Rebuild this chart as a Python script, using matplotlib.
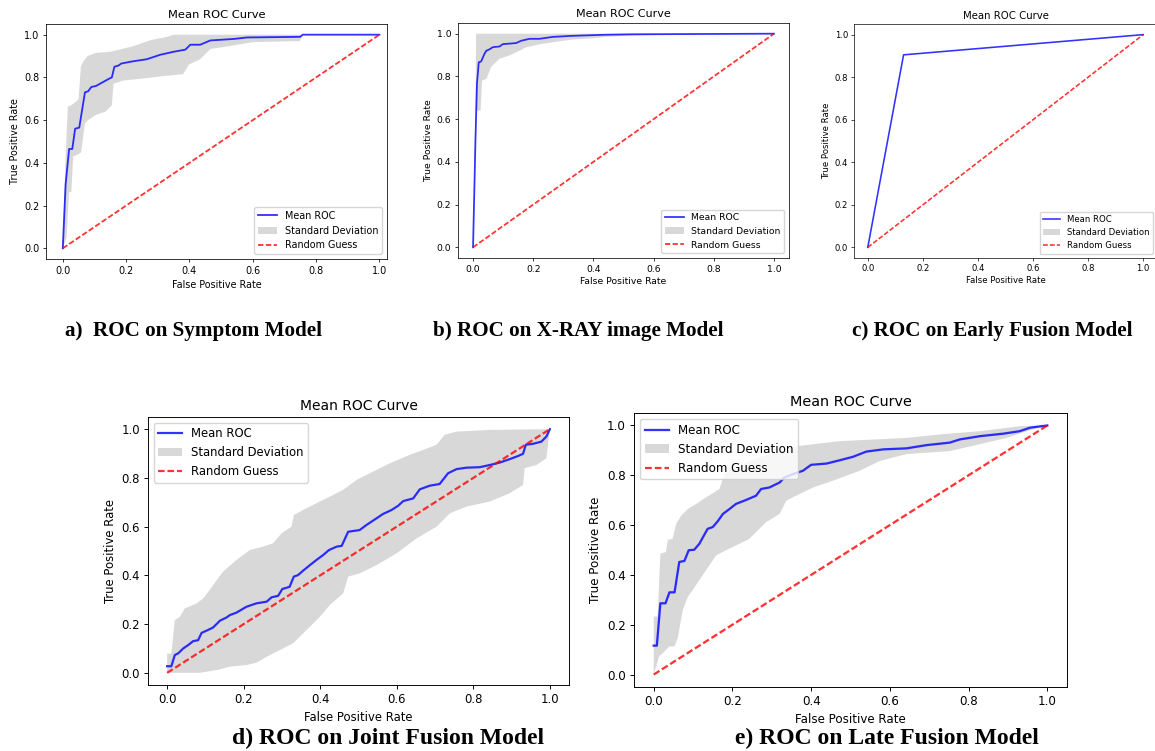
import matplotlib
matplotlib.use("Agg")
import matplotlib.pyplot as plt

# ---- a) symptom model ----
fpr_a = [0, 0.009, 0.02, 0.03, 0.039, 0.052, 0.07, 0.08, 0.09, 0.105, 0.15, 0.155, 0.163, 0.175,
         0.185, 0.22, 0.265, 0.308, 0.35, 0.387, 0.403, 0.434, 0.466, 0.54, 0.582, 0.75, 0.758, 1.0]
tpr_a = [0, 0.30, 0.465, 0.465, 0.56, 0.565, 0.73, 0.735, 0.755, 0.76, 0.797, 0.80, 0.85, 0.855,
         0.865, 0.875, 0.885, 0.906, 0.92, 0.93, 0.953, 0.953, 0.973, 0.98, 0.987, 0.99, 1.0, 1.0]
up_x_a = [0, 0.008, 0.016, 0.027, 0.045, 0.05, 0.057, 0.065, 0.078, 0.105, 0.15, 0.22, 0.276, 0.33, 0.35, 1.0]
up_y_a = [0, 0.40, 0.663, 0.67, 0.69, 0.70, 0.85, 0.875, 0.90, 0.915, 0.92, 0.945, 0.974, 0.99, 1.0, 1.0]
lo_x_a = [0, 0.012, 0.02, 0.027, 0.033, 0.05, 0.058, 0.07, 0.08, 0.105, 0.135, 0.155, 0.16, 0.19, 0.255,
          0.31, 0.38, 0.398, 0.434, 0.466, 0.52, 0.6, 0.75, 0.755, 1.0]
lo_y_a = [0, 0.05, 0.264, 0.264, 0.43, 0.44, 0.45, 0.585, 0.60, 0.625, 0.64, 0.67, 0.77, 0.785, 0.795,
          0.805, 0.815, 0.86, 0.885, 0.933, 0.945, 0.965, 0.97, 1.0, 1.0]

# ---- b) x-ray image model ----
fpr_b = [0, 0.008, 0.013, 0.019, 0.027, 0.038, 0.044, 0.055, 0.066, 0.088, 0.099, 0.143, 0.16, 0.188,
         0.221, 0.265, 0.331, 0.441, 0.53, 1.0]
tpr_b = [0, 0.5, 0.766, 0.866, 0.87, 0.906, 0.92, 0.927, 0.937, 0.94, 0.951, 0.956, 0.967, 0.976,
         0.976, 0.985, 0.99, 0.995, 0.997, 1.0]
up_x_b = [0, 0.009, 0.01, 1.0]
up_y_b = [0, 0.75, 1.0, 1.0]
lo_x_b = [0, 0.01, 0.025, 0.03, 0.045, 0.06, 0.088, 0.121, 0.154, 0.176, 0.22, 0.276, 0.331, 0.397,
          0.441, 0.507, 0.7, 1.0]
lo_y_b = [0, 0.64, 0.64, 0.78, 0.79, 0.844, 0.883, 0.898, 0.92, 0.936, 0.95, 0.962, 0.973, 0.978,
          0.985, 0.99, 0.998, 1.0]

# ---- c) early fusion (no spread between folds) ----
fpr_c = [0, 0.13, 1.0]
tpr_c = [0, 0.905, 1.0]

# ---- d) joint fusion ----
fpr_d = [0, 0.011, 0.02, 0.029, 0.042, 0.055, 0.068, 0.081, 0.09, 0.103, 0.12, 0.138, 0.155, 0.164,
         0.181, 0.207, 0.233, 0.26, 0.273, 0.29, 0.301, 0.32, 0.331, 0.342, 0.355, 0.373, 0.39, 0.408,
         0.423, 0.443, 0.456, 0.473, 0.503, 0.521, 0.547, 0.564, 0.586, 0.603, 0.617, 0.643, 0.66,
         0.686, 0.712, 0.734, 0.756, 0.782, 0.817, 0.843, 0.869, 0.895, 0.917, 0.93, 0.937, 0.956,
         0.978, 0.991, 1.0]
tpr_d = [0.027, 0.027, 0.073, 0.08, 0.10, 0.114, 0.13, 0.134, 0.164, 0.173, 0.186, 0.214, 0.227, 0.237,
         0.247, 0.271, 0.285, 0.292, 0.31, 0.316, 0.344, 0.353, 0.395, 0.401, 0.419, 0.442, 0.463,
         0.484, 0.504, 0.518, 0.521, 0.579, 0.586, 0.607, 0.634, 0.652, 0.668, 0.685, 0.705, 0.716,
         0.753, 0.768, 0.775, 0.819, 0.836, 0.842, 0.844, 0.853, 0.863, 0.877, 0.89, 0.899, 0.936,
         0.94, 0.949, 0.97, 1.0]
up_x_d = [0, 0.011, 0.02, 0.033, 0.046, 0.077, 0.094, 0.111, 0.133, 0.146, 0.181, 0.216, 0.251, 0.277,
          0.299, 0.325, 0.331, 0.355, 0.39, 0.425, 0.46, 0.495, 0.538, 0.582, 0.634, 0.669, 0.704,
          0.725, 0.756, 0.843, 1.0]
up_y_d = [0.079, 0.079, 0.216, 0.23, 0.264, 0.285, 0.305, 0.34, 0.388, 0.415, 0.463, 0.504, 0.518,
          0.532, 0.573, 0.60, 0.648, 0.668, 0.696, 0.723, 0.751, 0.792, 0.826, 0.86, 0.895, 0.915,
          0.936, 0.977, 0.99, 0.997, 1.0]
lo_x_d = [0, 0.085, 0.129, 0.164, 0.207, 0.233, 0.26, 0.294, 0.329, 0.364, 0.399, 0.425, 0.46, 0.473,
          0.503, 0.547, 0.599, 0.652, 0.704, 0.739, 0.782, 0.843, 0.895, 0.93, 0.934, 0.965, 0.991, 1.0]
lo_y_d = [0, 0, 0.011, 0.025, 0.032, 0.041, 0.066, 0.093, 0.121, 0.175, 0.23, 0.278, 0.326, 0.395,
          0.408, 0.442, 0.49, 0.552, 0.60, 0.655, 0.682, 0.703, 0.737, 0.771, 0.84, 0.853, 0.881, 1.0]

# ---- e) late fusion ----
fpr_e = [0, 0.008, 0.017, 0.03, 0.04, 0.053, 0.065, 0.078, 0.089, 0.103, 0.116, 0.137, 0.15, 0.163,
         0.176, 0.193, 0.209, 0.235, 0.26, 0.273, 0.294, 0.32, 0.332, 0.354, 0.379, 0.40, 0.439,
         0.472, 0.506, 0.54, 0.583, 0.642, 0.693, 0.752, 0.778, 0.829, 0.888, 0.93, 0.956, 1.0]
tpr_e = [0.116, 0.116, 0.286, 0.286, 0.33, 0.33, 0.452, 0.456, 0.499, 0.501, 0.525, 0.585, 0.592,
         0.616, 0.645, 0.665, 0.685, 0.701, 0.718, 0.745, 0.751, 0.771, 0.791, 0.805, 0.818, 0.842,
         0.847, 0.86, 0.874, 0.895, 0.904, 0.908, 0.921, 0.931, 0.944, 0.957, 0.967, 0.977, 0.991, 1.0]
up_x_e = [0, 0.01, 0.017, 0.031, 0.036, 0.048, 0.057, 0.07, 0.087, 0.108, 0.133, 0.167, 0.18, 0.201,
          0.25, 0.3, 0.37, 0.472, 0.642, 0.727, 0.829, 0.93, 1.0]
up_y_e = [0.233, 0.233, 0.485, 0.492, 0.541, 0.545, 0.605, 0.638, 0.665, 0.685, 0.711, 0.745, 0.805,
          0.824, 0.86, 0.89, 0.918, 0.937, 0.95, 0.964, 0.977, 0.997, 1.0]
lo_x_e = [0, 0.014, 0.023, 0.04, 0.053, 0.061, 0.074, 0.087, 0.099, 0.116, 0.133, 0.159, 0.184, 0.218,
          0.243, 0.286, 0.32, 0.337, 0.371, 0.405, 0.455, 0.523, 0.574, 0.642, 0.752, 0.829, 0.897,
          0.948, 1.0]
lo_y_e = [0, 0.073, 0.086, 0.113, 0.113, 0.146, 0.259, 0.312, 0.339, 0.379, 0.419, 0.479, 0.499,
          0.525, 0.545, 0.612, 0.645, 0.698, 0.725, 0.751, 0.778, 0.818, 0.857, 0.885, 0.897, 0.925,
          0.95, 0.977, 1.0]

captions = ["a)  ROC on Symptom Model", "b) ROC on X-RAY image Model", "c) ROC on Early Fusion Model",
            "d) ROC on Joint Fusion Model", "e) ROC on Late Fusion Model"]

W, H = 1155, 751
fig = plt.figure(figsize=(W / 100, H / 100), dpi=100)


def add_panel(box, scale, xlim, fpr, tpr, up_x, up_y, lo_x, lo_y, legend_loc):
    # box is the axes frame in pixels: left, top, right, bottom
    l, t, r, b = box
    ax = fig.add_axes([l / W, 1 - b / H, (r - l) / W, (b - t) / H])
    fs = 10 * scale
    lw = 1.9 * scale
    ax.plot(fpr, tpr, color="b", lw=lw, alpha=0.8, label="Mean ROC")
    ax.fill(up_x + lo_x[::-1], up_y + lo_y[::-1], color="grey", alpha=0.3, lw=0,
            label="Standard Deviation")
    ax.plot([0, 1], [0, 1], color="r", ls=(0, (3.0, 1.3)), lw=lw, alpha=0.8, label="Random Guess")
    ax.set_xlim(*xlim)
    ax.set_ylim(-0.05, 1.05)
    ax.set_title("Mean ROC Curve", fontsize=12 * scale, pad=6 * scale)
    ax.set_xlabel("False Positive Rate", fontsize=fs, labelpad=4 * scale)
    ax.set_ylabel("True Positive Rate", fontsize=fs, labelpad=4 * scale)
    ax.tick_params(labelsize=fs, width=0.8 * scale, length=3.5 * scale, pad=3.5 * scale)
    for sp in ax.spines.values():
        sp.set_linewidth(0.8 * scale)
    ax.legend(loc=legend_loc, fontsize=fs)
    return ax


add_panel((46, 24, 387, 259), 0.69, (-0.053, 1.024), fpr_a, tpr_a, up_x_a, up_y_a, lo_x_a, lo_y_a,
          "lower right")
add_panel((458, 23, 789, 258), 0.67, (-0.05, 1.05), fpr_b, tpr_b, up_x_b, up_y_b, lo_x_b, lo_y_b,
          "lower right")
add_panel((854, 24, 1157, 258), 0.61, (-0.05, 1.05), fpr_c, tpr_c, fpr_c, tpr_c, fpr_c, tpr_c,
          "lower right")
add_panel((148, 417, 569, 685), 0.835, (-0.05, 1.05), fpr_d, tpr_d, up_x_d, up_y_d, lo_x_d, lo_y_d,
          "upper left")
add_panel((634, 413, 1067, 687), 0.86, (-0.05, 1.05), fpr_e, tpr_e, up_x_e, up_y_e, lo_x_e, lo_y_e,
          "upper left")

cap_font = dict(family="Liberation Serif", fontweight="bold", va="center", ha="left")
fig.text(65 / W, 1 - 331 / H, captions[0], fontsize=15.2, **cap_font)
fig.text(433 / W, 1 - 331 / H, captions[1], fontsize=15.2, **cap_font)
fig.text(852 / W, 1 - 331 / H, captions[2], fontsize=15.2, **cap_font)
fig.text(232 / W, 1 - 738 / H, captions[3], fontsize=17, **cap_font)
fig.text(735 / W, 1 - 738 / H, captions[4], fontsize=17, **cap_font)

fig.savefig("out.png", dpi=100)
